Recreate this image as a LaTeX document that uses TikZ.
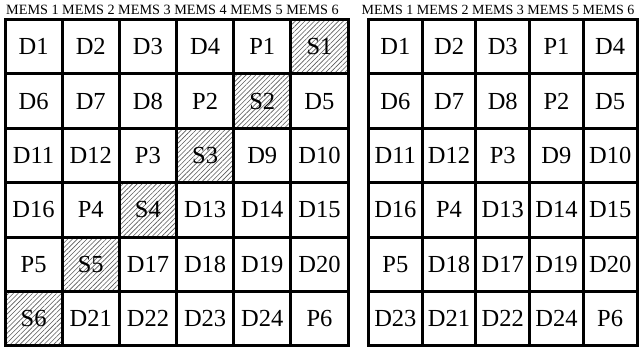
\documentclass[tikz,border=0pt]{standalone}
\usepackage{fontspec}
\setmainfont{Liberation Serif}
\usetikzlibrary{patterns.meta}
\begin{document}
\begin{tikzpicture}[x=1pt,y=-1pt,
  cell/.style={inner sep=0pt,font=\fontsize{24.5}{27}\selectfont},
  head/.style={inner sep=0pt,anchor=base west,font=\fontsize{14}{16}\selectfont},
  gridline/.style={line width=3pt,line cap=rect},
  hatch/.style={pattern={Lines[angle=45,distance=3.4pt,line width=0.6pt]},pattern color=black!65}]
\useasboundingbox (0,0) rectangle (639,350);
\def\LX{5}\def\LW{57.17}
\def\RX{368.5}\def\RW{53.7}
\def\TY{19.5}\def\RH{54.4}
% hatched cells (left grid)
\foreach \r in {1,...,6}{
  \pgfmathtruncatemacro{\c}{7-\r}
  \fill[hatch] ({\LX+(\c-1)*\LW},{\TY+(\r-1)*\RH}) rectangle ({\LX+\c*\LW},{\TY+\r*\RH});
}
% left labels
\foreach \row [count=\r] in {{D1,D2,D3,D4,P1,S1},{D6,D7,D8,P2,S2,D5},{D11,D12,P3,S3,D9,D10},{D16,P4,S4,D13,D14,D15},{P5,S5,D17,D18,D19,D20},{S6,D21,D22,D23,D24,P6}}{
  \foreach \lab [count=\c] in \row {
    \node[cell] (L\r-\c) at ({\LX+(\c-0.5)*\LW},{\TY+(\r-0.5)*\RH}) {\lab};
  }
}
% right labels
\foreach \row [count=\r] in {{D1,D2,D3,P1,D4},{D6,D7,D8,P2,D5},{D11,D12,P3,D9,D10},{D16,P4,D13,D14,D15},{P5,D18,D17,D19,D20},{D23,D21,D22,D24,P6}}{
  \foreach \lab [count=\c] in \row {
    \node[cell] (R\r-\c) at ({\RX+(\c-0.5)*\RW},{\TY+(\r-0.5)*\RH}) {\lab};
  }
}
% grid lines
\foreach \i in {0,...,6}{
  \draw[gridline] ({\LX+\i*\LW},\TY) -- ({\LX+\i*\LW},{\TY+6*\RH});
  \draw[gridline] (\LX,{\TY+\i*\RH}) -- ({\LX+6*\LW},{\TY+\i*\RH});
  \draw[gridline] (\RX,{\TY+\i*\RH}) -- ({\RX+5*\RW},{\TY+\i*\RH});
}
\foreach \i in {0,...,5}{
  \draw[gridline] ({\RX+\i*\RW},\TY) -- ({\RX+\i*\RW},{\TY+6*\RH});
}
% headers
\node[head,font=\fontsize{14.2}{16}\selectfont] (LH) at (6,15) {MEMS 1 MEMS 2 MEMS 3 MEMS 4 MEMS 5 MEMS 6};
\node[head] (RH) at (361.5,15) {MEMS 1 MEMS 2 MEMS 3 MEMS 5 MEMS 6};
\end{tikzpicture}
\end{document}
